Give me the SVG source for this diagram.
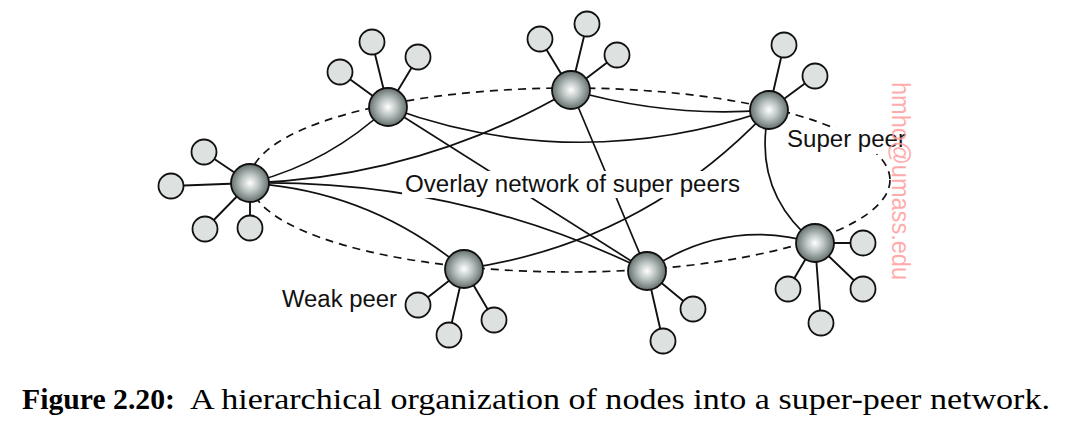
<svg xmlns="http://www.w3.org/2000/svg" width="1066" height="429" viewBox="0 0 1066 429">
<style>
.sp{fill:url(#spg);stroke:#111;stroke-width:1.8}
.wp{fill:#dde1e0;stroke:#111;stroke-width:1.8}
.ov{fill:none;stroke:#111;stroke-width:1.7}
.sk{fill:none;stroke:#111;stroke-width:1.9}
.ring{fill:none;stroke:#111;stroke-width:1.7;stroke-dasharray:8 6}
.bg{fill:#fff}
.lbl{font-family:"Liberation Sans",Arial,sans-serif;font-size:23px;fill:#111}
.cap{font-family:"Liberation Serif","Times New Roman",serif;font-size:30px;fill:#000}
.wm{font-family:"Liberation Sans",Arial,sans-serif;font-size:25px;fill:#ff9c9c;fill-opacity:0.85}
</style>
<defs>
<radialGradient id="spg" cx="0.5" cy="0.5" r="0.5" fx="0.5" fy="0.5">
<stop offset="0" stop-color="#ffffff"/>
<stop offset="0.45" stop-color="#bcc5c3"/>
<stop offset="1" stop-color="#65706e"/>
</radialGradient>
</defs>
<rect width="1066" height="429" fill="#fff"/>
<g id="connectors">
<ellipse class="ring" cx="570" cy="180" rx="320" ry="92"/>
<path class="ov" d="M250,183 Q329,163 388,107"/>
<path class="ov" d="M250,183 Q422,177 571,90"/>
<path class="ov" d="M250,183 Q459,179 647,271"/>
<path class="ov" d="M250,183 Q371,191 464,269"/>
<path class="ov" d="M388,107 Q575,176 769,110"/>
<path class="ov" d="M571,90 Q668,118 769,110"/>
<path class="ov" d="M388,107 L647,271"/>
<path class="ov" d="M571,90 L647,271"/>
<path class="ov" d="M464,269 Q644,243 769,110"/>
<path class="ov" d="M769,110 Q751,191 815,243"/>
<path class="ov" d="M647,271 Q725,217 815,243"/>
<path class="sk" d="M250,183 L204,152 M250,183 L171,186 M250,183 L205,229 M250,183 L250,228"/>
<path class="sk" d="M388,107 L340,72 M388,107 L372,42 M388,107 L418,57"/>
<path class="sk" d="M571,90 L540,39 M571,90 L587,24 M571,90 L617,55"/>
<path class="sk" d="M769,110 L784,45 M769,110 L815,76"/>
<path class="sk" d="M815,243 L863,243 M815,243 L788,289 M815,243 L863,289 M815,243 L821,323"/>
<path class="sk" d="M647,271 L693,309 M647,271 L663,341"/>
<path class="sk" d="M464,269 L418,305 M464,269 L449,335 M464,269 L494,320"/>
</g>
<g id="weak-a"><circle class="wp" cx="204" cy="152" r="12.5"/><circle class="wp" cx="171" cy="186" r="12.5"/><circle class="wp" cx="205" cy="229" r="12.5"/><circle class="wp" cx="250" cy="228" r="12.5"/></g>
<g id="weak-b"><circle class="wp" cx="340" cy="72" r="12.5"/><circle class="wp" cx="372" cy="42" r="12.5"/><circle class="wp" cx="418" cy="57" r="12.5"/></g>
<g id="weak-c"><circle class="wp" cx="540" cy="39" r="12.5"/><circle class="wp" cx="587" cy="24" r="12.5"/><circle class="wp" cx="617" cy="55" r="12.5"/></g>
<g id="weak-d"><circle class="wp" cx="784" cy="45" r="12.5"/><circle class="wp" cx="815" cy="76" r="12.5"/></g>
<g id="weak-e"><circle class="wp" cx="863" cy="243" r="12.5"/><circle class="wp" cx="788" cy="289" r="12.5"/><circle class="wp" cx="863" cy="289" r="12.5"/><circle class="wp" cx="821" cy="323" r="12.5"/></g>
<g id="weak-f"><circle class="wp" cx="693" cy="309" r="12.5"/><circle class="wp" cx="663" cy="341" r="12.5"/></g>
<g id="weak-g"><circle class="wp" cx="418" cy="305" r="12.5"/><circle class="wp" cx="449" cy="335" r="12.5"/><circle class="wp" cx="494" cy="320" r="12.5"/></g>
<g id="super-a"><circle class="sp" cx="250" cy="183" r="19"/></g>
<g id="super-b"><circle class="sp" cx="388" cy="107" r="19"/></g>
<g id="super-c"><circle class="sp" cx="571" cy="90" r="19"/></g>
<g id="super-d"><circle class="sp" cx="769" cy="110" r="19"/></g>
<g id="super-e"><circle class="sp" cx="815" cy="243" r="19"/></g>
<g id="super-f"><circle class="sp" cx="647" cy="271" r="19"/></g>
<g id="super-g"><circle class="sp" cx="464" cy="269" r="19"/></g>
<g id="labels">
<rect class="bg" x="402" y="171" width="340" height="27"/>
<text class="lbl" x="405" y="192" textLength="335" lengthAdjust="spacingAndGlyphs">Overlay network of super peers</text>
<rect class="bg" x="784" y="128" width="124" height="26"/>
<text class="lbl" x="787" y="147" textLength="119" lengthAdjust="spacingAndGlyphs">Super peer</text>
<text class="lbl" x="282" y="307" textLength="115" lengthAdjust="spacingAndGlyphs">Weak peer</text>
</g>
<text class="wm" x="82" y="-892" transform="rotate(90)" textLength="198" lengthAdjust="spacingAndGlyphs">hmho@umass.edu</text>
<text class="cap" y="409"><tspan x="22" font-weight="bold" textLength="153" lengthAdjust="spacingAndGlyphs">Figure 2.20:</tspan><tspan x="190" textLength="860" lengthAdjust="spacingAndGlyphs">A hierarchical organization of nodes into a super-peer network.</tspan></text>
</svg>
